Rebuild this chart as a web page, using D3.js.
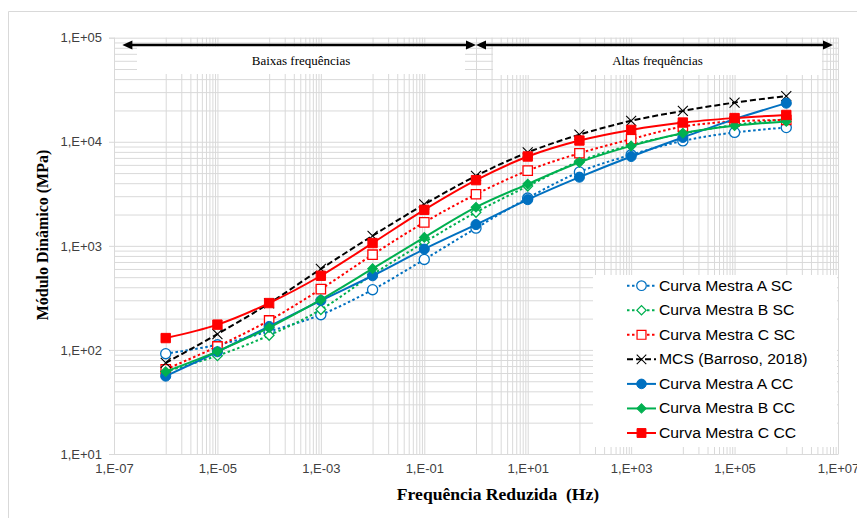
<!DOCTYPE html>
<html>
<head>
<meta charset="utf-8">
<script src="https://cdn.jsdelivr.net/npm/d3@7"></script>
<style>
  body { margin: 0; background: #fff; }
  svg { display: block; }
</style>
</head>
<body>
<svg id="chart" width="857" height="518"></svg>
<script>
// ---------------- DATA ----------------
const freq = [1e-6, 1e-5, 1e-4, 1e-3, 1e-2, 1e-1, 1e0, 1e1, 1e2, 1e3, 1e4, 1e5, 1e6];

const seriesNames = [
  "Curva Mestra A SC",
  "Curva Mestra B SC",
  "Curva Mestra C SC",
  "MCS (Barroso, 2018)",
  "Curva Mestra A CC",
  "Curva Mestra B CC",
  "Curva Mestra C CC"
];

const aSC = [92, 112, 151, 218, 379, 740, 1480, 2880, 5130, 7500, 10200, 12300, 13700];
const bSC = [62, 88, 138, 244, 530, 1080, 2100, 3750, 6500, 9300, 12000, 14500, 16500];
const cSC = [65, 108, 192, 384, 822, 1680, 3130, 5280, 7760, 10600, 14000, 15700, 16200];
const mcs = [75, 142, 280, 600, 1250, 2500, 4700, 7900, 11700, 15900, 19800, 23800, 27500];
const aCC = [56, 96, 168, 298, 516, 931, 1600, 2780, 4570, 7220, 11000, 16500, 23500];
const bCC = [62, 97, 164, 304, 603, 1205, 2350, 3920, 6350, 9130, 12100, 14250, 15700];
const cCC = [130, 175, 282, 516, 1064, 2218, 4280, 7220, 10280, 13000, 15300, 16900, 18100];

const xTickValues = [1e-7, 1e-5, 1e-3, 1e-1, 1e1, 1e3, 1e5, 1e7];
const yTickValues = [1e1, 1e2, 1e3, 1e4, 1e5];

const xTitle = "Frequência Reduzida  (Hz)";
const yTitle = "Módulo Dinâmico (MPa)";

// annotation bands (frequency extents of arrows)
const bandLabels = ["Baixas frequências", "Altas frequências"];
const bandFrom = [1.45e-7, 1e0];
const bandTo = [1e0, 8e6];

// ---------------- SETUP ----------------
const svg = d3.select("#chart");
const W = 857, H = 518;
const pL = 114, pR = 838, pT = 37.7, pB = 454;

svg.append("rect").attr("width", W).attr("height", H).attr("fill", "#fff");
// outer frame (clipped on right/bottom)
svg.append("line").attr("x1", 8.5).attr("x2", W).attr("y1", 11.5).attr("y2", 11.5).attr("stroke", "#d9d9d9");
svg.append("line").attr("x1", 8.5).attr("x2", 8.5).attr("y1", 11.5).attr("y2", H).attr("stroke", "#d9d9d9");

const x = d3.scaleLog().domain([1e-7, 1e7]).range([pL, pR]);
const y = d3.scaleLog().domain([10, 1e5]).range([pB, pT]);

const fmt = v => {
  const e = Math.round(Math.log10(v));
  const s = e >= 0 ? "+" : "-";
  return "1,E" + s + String(Math.abs(e)).padStart(2, "0");
};

// gridlines
const yGrid = [];
for (let e = 1; e < 5; e++) for (let m = 1; m <= 9; m++) yGrid.push(m * Math.pow(10, e));
yGrid.push(1e5);
const xGrid = [...xTickValues];
for (let e = -6; e <= 6; e += 2) for (let m = 1; m <= 9; m++) xGrid.push(m * Math.pow(10, e));

const gy = svg.append("g").attr("transform", `translate(${pL},0)`)
  .call(d3.axisLeft(y).tickValues(yGrid).tickFormat("").tickSize(-(pR - pL)));
gy.select(".domain").remove();
gy.selectAll("line").attr("stroke", "#d9d9d9").attr("stroke-width", 1);

const gx = svg.append("g").attr("transform", `translate(0,${pB})`)
  .call(d3.axisBottom(x).tickValues(xGrid).tickFormat("").tickSize(-(pB - pT)));
gx.select(".domain").remove();
gx.selectAll("line").attr("stroke", "#d9d9d9").attr("stroke-width", 1);

// white text boxes for annotations
const boxes = [[137, 46.5, 465, 74], [493, 46.5, 822, 75]];
boxes.forEach(b => svg.append("rect").attr("x", b[0]).attr("y", b[1])
  .attr("width", b[2] - b[0]).attr("height", b[3] - b[1]).attr("fill", "#fff"));

// axes
const yAxis = svg.append("g").attr("transform", `translate(${pL},0)`)
  .call(d3.axisLeft(y).tickValues(yTickValues).tickFormat(fmt).tickSize(5).tickPadding(7));
yAxis.select(".domain").attr("stroke", "#d9d9d9");
yAxis.selectAll("line").attr("stroke", "#d9d9d9");
yAxis.selectAll("text").attr("font-family", "Liberation Sans, Arial, sans-serif")
  .attr("font-size", 13).attr("fill", "#404040");

const xAxis = svg.append("g").attr("transform", `translate(0,${pB})`)
  .call(d3.axisBottom(x).tickValues(xTickValues).tickFormat(fmt).tickSize(0).tickPadding(10));
xAxis.select(".domain").attr("stroke", "#d9d9d9");
xAxis.selectAll("text").attr("font-family", "Liberation Sans, Arial, sans-serif")
  .attr("font-size", 13).attr("fill", "#404040");

// titles
svg.append("text").attr("transform", "translate(498,500) scale(1.1,1)").attr("text-anchor", "middle")
  .attr("font-family", "Liberation Serif, Times New Roman, serif").attr("font-weight", "bold")
  .attr("font-size", 16).attr("fill", "#000").style("white-space", "pre").text(xTitle);
svg.append("text").attr("transform", "translate(48,235) rotate(-90)").attr("text-anchor", "middle")
  .attr("font-family", "Liberation Serif, Times New Roman, serif").attr("font-weight", "bold")
  .attr("font-size", 16).attr("fill", "#000").text(yTitle);

// ---------------- SERIES ----------------
const BLUE = "#0070c0", GREEN = "#00b050", RED = "#ff0000", BLACK = "#000";
const styles = [
  { c: BLUE, dash: "2.5 2.5", sym: "circle", filled: false },
  { c: GREEN, dash: "2.5 2.5", sym: "diamond", filled: false },
  { c: RED, dash: "2.5 2.5", sym: "square", filled: false },
  { c: BLACK, dash: "6 3", sym: "x", filled: false },
  { c: BLUE, dash: null, sym: "circle", filled: true },
  { c: GREEN, dash: null, sym: "diamond", filled: true },
  { c: RED, dash: null, sym: "square", filled: true }
];
const allValues = [aSC, bSC, cSC, mcs, aCC, bCC, cCC];

function markerPath(sym) {
  if (sym === "circle") return d3.symbol().type(d3.symbolCircle).size(80)();
  if (sym === "square") return d3.symbol().type(d3.symbolSquare).size(88)();
  if (sym === "diamond") return d3.symbol().type(d3.symbolSquare).size(48)();
  const p = d3.path(); const r = 5;
  p.moveTo(-r, -r); p.lineTo(r, r); p.moveTo(-r, r); p.lineTo(r, -r);
  return p.toString();
}
function drawMarker(g, st, px, py, scale) {
  const s = scale || 1;
  const el = g.append("path").attr("d", markerPath(st.sym))
    .attr("transform", `translate(${px},${py}) scale(${s})` + (st.sym === "diamond" ? " rotate(45)" : ""));
  if (st.sym === "x") {
    el.attr("fill", "none").attr("stroke", st.c).attr("stroke-width", 1.1);
  } else if (st.filled) {
    el.attr("fill", st.c).attr("stroke", st.c).attr("stroke-width", 1);
  } else {
    el.attr("fill", "#fff").attr("stroke", st.c).attr("stroke-width", 1.3);
  }
}

const line = d3.line().x(d => x(d[0])).y(d => y(d[1])).curve(d3.curveCatmullRom.alpha(0));

allValues.forEach((vals, i) => {
  const st = styles[i];
  const pts = freq.map((f, j) => [f, vals[j]]);
  const g = svg.append("g");
  g.append("path").attr("d", line(pts)).attr("fill", "none").attr("stroke", st.c)
    .attr("stroke-width", 2).attr("stroke-dasharray", st.dash);
  pts.forEach(p => drawMarker(g, st, x(p[0]), y(p[1])));
});

// ---------------- ANNOTATION ARROWS ----------------
const arrowY = 45;
function head(px, dir) {
  const L = 10, hw = 4.5;
  svg.append("path").attr("d", `M${px},${arrowY} L${px - dir * L},${arrowY - hw} L${px - dir * L},${arrowY + hw} Z`)
    .attr("fill", "#000");
}
bandLabels.forEach((lab, i) => {
  const x1 = x(bandFrom[i]), x2 = x(bandTo[i]);
  svg.append("line").attr("x1", x1 + 6).attr("x2", x2 - 6).attr("y1", arrowY).attr("y2", arrowY)
    .attr("stroke", "#000").attr("stroke-width", 2.5);
  head(x1, -1); head(x2, 1);
  svg.append("text").attr("x", (boxes[i][0] + boxes[i][2]) / 2).attr("y", 64.5)
    .attr("text-anchor", "middle").attr("font-family", "Liberation Serif, Times New Roman, serif")
    .attr("font-size", 13).attr("fill", "#000").text(lab);
});

// ---------------- LEGEND ----------------
const lg = svg.append("g");
lg.append("rect").attr("x", 593).attr("y", 275).attr("width", 244).attr("height", 172).attr("fill", "#fff");
seriesNames.forEach((name, i) => {
  const st = styles[i];
  const ly = 285.7 + i * 24.55;
  lg.append("line").attr("x1", 627).attr("x2", 656).attr("y1", ly).attr("y2", ly)
    .attr("stroke", st.c).attr("stroke-width", 2).attr("stroke-dasharray", st.dash);
  drawMarker(lg, st, 641.5, ly, 0.95);
  lg.append("text").attr("transform", `translate(659,${ly + 5}) scale(1.1,1)`)
    .attr("font-family", "Liberation Sans, Arial, sans-serif")
    .attr("font-size", 14.3).attr("fill", "#000").text(name);
});
</script>
</body>
</html>
